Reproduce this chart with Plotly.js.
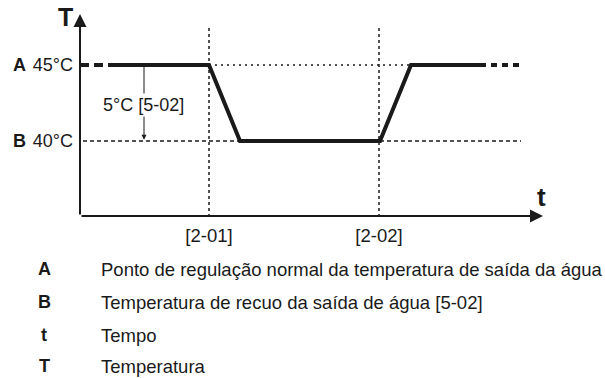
<!DOCTYPE html>
<html>
<head>
<meta charset="utf-8">
<script src="https://cdn.plot.ly/plotly-3.0.1.min.js"></script>
<style>
  html, body { margin: 0; padding: 0; background: #fff; }
  #chart { width: 605px; height: 378px; }
</style>
</head>
<body>
<div id="chart"></div>
<script>
//#region data
// time axis is unitless: values
const profileTime = [33, 129, 160, 300, 331, 400];
const profileTemp = [45, 45, 40, 40, 45, 45];
const leadTime = [0, 33];
const tailTime = [400, 439];
const setpointA = 45;
const setpointB = 40;
const switchTimes = [129, 299];
const switchLabels = ['[2-01]', '[2-02]'];
const tempTicks = [45, 40];
const tempTickText = ['45°C', '40°C'];
const tempKeys = ['A', 'B'];
const offsetLabel = '5°C [5-02]';
const offsetTime = 64;

const legendKeys = ['A', 'B', 't', 'T'];
const legendText = [
    'Ponto de regulação normal da temperatura de saída da água',
    'Temperatura de recuo da saída de água [5-02]',
    'Tempo',
    'Temperatura'
];
//#endregion

//#region layout helpers
const FONT = 'Liberation Sans, Arial, sans-serif';
const plotLeft = 77, plotRight = 545;
const plotTop = 10, plotBottom = 220;
const yMin = 34.8, yMax = 48.62;
const pxToPaperX = px => (px - plotLeft) / (plotRight - plotLeft);
const pyToPaper = py => (plotBottom - py) / (plotBottom - plotTop);
const legendRows = [269, 302, 335, 366];
//#endregion

//#region traces
const ink = '#1a1a1a';
const traceMain = { x: profileTime, y: profileTemp, type: 'scatter', mode: 'lines', line: { color: ink, width: 4 }, hoverinfo: 'skip' };
const traceLead = { x: leadTime, y: [setpointA, setpointA], type: 'scatter', mode: 'lines', line: { color: ink, width: 4, dash: '9px,5px' }, hoverinfo: 'skip' };
const traceTail = { x: tailTime, y: [setpointA, setpointA], type: 'scatter', mode: 'lines', line: { color: ink, width: 4, dash: '6px,5px' }, hoverinfo: 'skip' };

const guideA = { x: [switchTimes[0], profileTime[4]], y: [setpointA, setpointA], type: 'scatter', mode: 'lines', line: { color: ink, width: 1.5, dash: '2px,4px' }, hoverinfo: 'skip' };
const guideB1 = { x: [3, profileTime[2]], y: [setpointB, setpointB], type: 'scatter', mode: 'lines', line: { color: ink, width: 1.5, dash: '4px,3px' }, hoverinfo: 'skip' };
const guideB2 = { x: [profileTime[3], 441], y: [setpointB, setpointB], type: 'scatter', mode: 'lines', line: { color: ink, width: 1.5, dash: '4px,3px' }, hoverinfo: 'skip' };
const guideV = switchTimes.map(t => ({ x: [t, t], y: [yMin + 0.2, 47.63], type: 'scatter', mode: 'lines', line: { color: ink, width: 1.5, dash: '3px,3px' }, hoverinfo: 'skip' }));
//#endregion

//#region annotations
const annotations = [];

// axes with arrowheads
annotations.push({ x: 0, y: 48.36, ax: 0, ay: 35.07, xref: 'x', yref: 'y', axref: 'x', ayref: 'y', text: '', showarrow: true, arrowhead: 2, arrowsize: 1.3, arrowwidth: 2, arrowcolor: ink });
annotations.push({ x: 463, y: 35.07, ax: 0, ay: 35.07, xref: 'x', yref: 'y', axref: 'x', ayref: 'y', text: '', showarrow: true, arrowhead: 2, arrowsize: 1.3, arrowwidth: 2, arrowcolor: ink });
annotations.push({ x: pxToPaperX(65), y: pyToPaper(17), xref: 'paper', yref: 'paper', xanchor: 'center', yanchor: 'middle', text: '<b>T</b>', showarrow: false, font: { family: FONT, size: 25, color: ink } });
annotations.push({ x: 461, y: 36.3, xref: 'x', yref: 'y', text: '<b>t</b>', showarrow: false, font: { family: FONT, size: 26, color: ink } });

// A / B keys by the y ticks
tempKeys.forEach((k, i) => {
    annotations.push({ x: pxToPaperX(19), y: tempTicks[i], xref: 'paper', yref: 'y', xanchor: 'center', yanchor: 'middle', text: '<b>' + k + '</b>', showarrow: false, font: { family: FONT, size: 18, color: ink } });
});

// 5°C offset arrow
annotations.push({ x: offsetTime, y: setpointB + 0.08, ax: offsetTime, ay: setpointA, xref: 'x', yref: 'y', axref: 'x', ayref: 'y', text: '', showarrow: true, arrowhead: 2, arrowsize: 1, arrowwidth: 1, arrowcolor: ink });
annotations.push({ x: offsetTime - 1, y: 42.4, xref: 'x', yref: 'y', text: offsetLabel, showarrow: false, bgcolor: '#ffffff', font: { family: FONT, size: 18, color: ink } });

// explanation list
legendKeys.forEach((k, i) => {
    annotations.push({ x: pxToPaperX(44), y: pyToPaper(legendRows[i]), xref: 'paper', yref: 'paper', xanchor: 'center', yanchor: 'middle', text: '<b>' + k + '</b>', showarrow: false, font: { family: FONT, size: 18, color: ink } });
    annotations.push({ x: pxToPaperX(99), y: pyToPaper(legendRows[i]), xref: 'paper', yref: 'paper', xanchor: 'left', yanchor: 'middle', text: legendText[i], showarrow: false, font: { family: FONT, size: 18.5, color: ink } });
});
//#endregion

//#region layout
const layout = {
    width: 605, height: 378,
    paper_bgcolor: '#ffffff', plot_bgcolor: '#ffffff',
    showlegend: false,
    margin: { l: plotLeft, r: 605 - plotRight, t: plotTop, b: 378 - plotBottom, pad: 0 },
    font: { family: FONT, size: 18, color: ink },
    xaxis: {
        range: [-3, 465], showgrid: false, zeroline: false, showline: false,
        tickmode: 'array', tickvals: switchTimes, ticktext: switchLabels,
        ticks: '', ticklabelstandoff: 2, tickfont: { family: FONT, size: 18.5, color: ink }
    },
    yaxis: {
        range: [yMin, yMax], showgrid: false, zeroline: false, showline: false,
        tickmode: 'array', tickvals: tempTicks, ticktext: tempTickText,
        ticks: '', ticklabelstandoff: 3, tickfont: { family: FONT, size: 18, color: ink }
    },
    annotations: annotations
};
//#endregion

Plotly.newPlot('chart', [guideA, guideB1, guideB2, ...guideV, traceLead, traceMain, traceTail], layout, { staticPlot: true, displayModeBar: false });
</script>
</body>
</html>
